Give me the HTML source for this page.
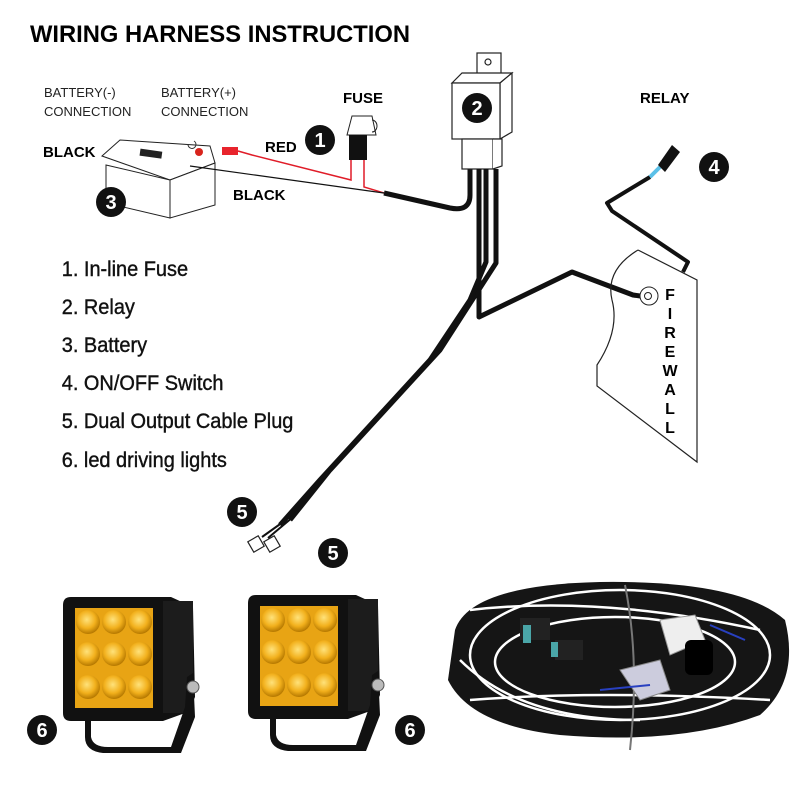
<!DOCTYPE html>
<html><head><meta charset="utf-8"><style>
html,body{margin:0;padding:0;background:#fff;}
svg{display:block;}
text{font-family:"Liberation Sans",sans-serif;}
</style></head><body>
<svg width="800" height="800" viewBox="0 0 800 800" xmlns="http://www.w3.org/2000/svg">
<rect width="800" height="800" fill="#fff"/>
<defs>
<radialGradient id="led" cx="45%" cy="40%" r="60%"><stop offset="0" stop-color="#ffe27a"/><stop offset="0.6" stop-color="#f2b01c"/><stop offset="1" stop-color="#b57800"/></radialGradient>
<g id="light">
  <path d="M0 8 Q0 0 8 0 L108 0 L130 10 L132 100 L125 115 L100 124 L8 124 Q0 124 0 116 Z" fill="#111"/>
  <rect x="100" y="4" width="30" height="112" fill="#1c1c1c"/>
  <rect x="12" y="11" width="78" height="100" fill="#e8a414"/>
  <g fill="url(#led)">
    <circle cx="25" cy="25" r="12"/><circle cx="51" cy="25" r="12"/><circle cx="77" cy="25" r="12"/>
    <circle cx="25" cy="57" r="12"/><circle cx="51" cy="57" r="12"/><circle cx="77" cy="57" r="12"/>
    <circle cx="25" cy="90" r="12"/><circle cx="51" cy="90" r="12"/><circle cx="77" cy="90" r="12"/>
  </g>
  <path d="M28 122 L28 140 Q30 150 45 150 L108 150 L122 110 L124 80 L130 76 L132 120 L118 156 L40 156 Q22 154 22 140 L22 122 Z" fill="#111"/>
  <circle cx="130" cy="90" r="6" fill="#bbb" stroke="#555"/>
</g>
</defs>

<text x="30" y="42" font-size="24" font-weight="bold" textLength="380" lengthAdjust="spacingAndGlyphs">WIRING HARNESS INSTRUCTION</text>

<g font-size="13" fill="#222">
<text x="44" y="97">BATTERY(-)</text><text x="44" y="116">CONNECTION</text>
<text x="161" y="97">BATTERY(+)</text><text x="161" y="116">CONNECTION</text>
</g>
<g font-size="15" font-weight="bold">
<text x="343" y="103">FUSE</text>
<text x="640" y="103">RELAY</text>
<text x="43" y="157">BLACK</text>
<text x="265" y="152">RED</text>
<text x="233" y="200">BLACK</text>
</g>

<g fill="#fff" stroke="#222" stroke-width="1">
<path d="M102 156 L120 140 L210 146 L215 163 L170 180 Z"/>
<path d="M106 165 L170 180 L170 218 L106 203 Z"/>
<path d="M170 180 L215 163 L215 205 L170 218 Z"/>
</g>
<rect x="140" y="150" width="22" height="7" fill="#222" transform="rotate(8 150 153)"/>
<circle cx="199" cy="152" r="4" fill="#d8241c"/>
<path d="M188 144 a4 4 0 1 0 6 -3" fill="none" stroke="#333"/>
<rect x="222" y="147" width="16" height="8" fill="#e8242c"/>

<path d="M238 151 L252 155 L351 180 L351 160" fill="none" stroke="#e01c28" stroke-width="1.5"/>
<path d="M364 160 L364 187 L384 193" fill="none" stroke="#e01c28" stroke-width="1.5"/>
<path d="M190 166 L384 193" fill="none" stroke="#111" stroke-width="1.2"/>
<path d="M384 193 L450 208 Q470 212 470 195 L470 169" fill="none" stroke="#111" stroke-width="5"/>

<path d="M347 135 L352 116 L372 116 L376 135 Z" fill="#fff" stroke="#222"/>
<path d="M372 120 a5 6 0 1 1 0 12" fill="none" stroke="#222"/>
<rect x="349" y="135" width="18" height="25" fill="#111"/>

<g fill="#fff" stroke="#222" stroke-width="1.2">
<rect x="477" y="53" width="24" height="22"/>
<circle cx="488" cy="62" r="3"/>
<path d="M452 83 L462 73 L512 73 L500 83 Z"/>
<path d="M500 83 L512 73 L512 132 L500 139 Z"/>
<rect x="452" y="83" width="48" height="56"/>
<rect x="462" y="139" width="31" height="30"/>
<path d="M493 139 L502 139 L502 166 L493 169"/>
</g>
<g fill="none" stroke="#111" stroke-width="5" stroke-linejoin="round">
<path d="M479 169 L479 317 L572 272 L633 295 L647 297"/>
<path d="M496 169 L496 263 L440 350 L330 470 L290 520"/>
<path d="M486 169 L486 262 L470 300 L430 360 L320 480 L280 525"/>
</g>
<path d="M293 517 L268 538 M283 522 L262 537" stroke="#111" stroke-width="2"/>
<g fill="#fff" stroke="#222" stroke-width="1.2">
<rect x="250" y="538" width="12" height="12" transform="rotate(-30 256 544)"/>
<rect x="266" y="538" width="12" height="12" transform="rotate(-30 272 544)"/>
</g>

<path d="M650 177 L607 203 L612 211 L688 262 L683 272" fill="none" stroke="#111" stroke-width="4" stroke-linejoin="round"/>
<path d="M650 177 L660 167" stroke="#5bc0e8" stroke-width="4"/>
<path d="M658 165 L672 145 L680 152 L665 172 Z" fill="#111"/>

<path d="M638 250 L697 280 L697 462 L597 386 L597 365 Q620 330 612 300 Q605 270 638 250" fill="none" stroke="#222" stroke-width="1.2"/>
<circle cx="649" cy="296" r="9" fill="#fff" stroke="#222"/>
<circle cx="648" cy="296" r="3.5" fill="#fff" stroke="#222"/>
<g font-size="16" font-weight="bold" text-anchor="middle">
<text x="670" y="300">F</text><text x="670" y="319">I</text><text x="670" y="338">R</text><text x="670" y="357">E</text><text x="670" y="376">W</text><text x="670" y="395">A</text><text x="670" y="414">L</text><text x="670" y="433">L</text>
</g>

<g font-size="21" fill="#111" stroke="#111" stroke-width="0.4" transform="scale(0.95 1)">
<text x="65" y="276">1. In-line Fuse</text>
<text x="65" y="314">2. Relay</text>
<text x="65" y="352">3. Battery</text>
<text x="65" y="390">4. ON/OFF Switch</text>
<text x="65" y="428">5. Dual Output Cable Plug</text>
<text x="65" y="467">6. led driving lights</text>
</g>

<g font-weight="bold" font-size="20" fill="#fff" text-anchor="middle">
<circle cx="320" cy="140" r="15" fill="#111"/><text x="320" y="147">1</text>
<circle cx="477" cy="108" r="15" fill="#111"/><text x="477" y="115">2</text>
<circle cx="111" cy="202" r="15" fill="#111"/><text x="111" y="209">3</text>
<circle cx="714" cy="167" r="15" fill="#111"/><text x="714" y="174">4</text>
<circle cx="242" cy="512" r="15" fill="#111"/><text x="242" y="519">5</text>
<circle cx="333" cy="553" r="15" fill="#111"/><text x="333" y="560">5</text>
<circle cx="42" cy="730" r="15" fill="#111"/><text x="42" y="737">6</text>
<circle cx="410" cy="730" r="15" fill="#111"/><text x="410" y="737">6</text>
</g>

<use href="#light" x="63" y="597"/>
<use href="#light" x="248" y="595"/>

<path d="M455 630 Q470 585 600 582 Q740 580 785 620 Q800 680 760 715 Q680 745 560 735 Q470 725 448 680 Z" fill="#151515"/>
<g fill="none" stroke="#fff" stroke-width="2.5">
<ellipse cx="620" cy="655" rx="150" ry="65"/>
<ellipse cx="615" cy="662" rx="120" ry="45"/>
<path d="M470 610 Q600 595 760 630"/>
<path d="M470 700 Q600 690 770 700"/>
<path d="M460 660 Q520 720 640 720"/>
</g>
<path d="M625 585 Q640 660 630 750" fill="none" stroke="#777" stroke-width="2"/>
<rect x="520" y="618" width="30" height="22" fill="#222"/>
<rect x="523" y="625" width="8" height="18" fill="#4aa6a8"/>
<rect x="555" y="640" width="28" height="20" fill="#222"/>
<rect x="551" y="642" width="7" height="15" fill="#4aa6a8"/>
<path d="M660 620 L695 615 L705 640 L670 655 Z" fill="#eee" stroke="#999"/>
<path d="M620 670 L660 660 L670 690 L640 700 Z" fill="#ccd" stroke="#888"/>
<rect x="685" y="640" width="28" height="35" rx="6" fill="#000"/>
<path d="M600 690 L650 685" stroke="#2840c0" stroke-width="2"/>
<path d="M710 625 L745 640" stroke="#2840c0" stroke-width="2"/>
</svg>
</body></html>
